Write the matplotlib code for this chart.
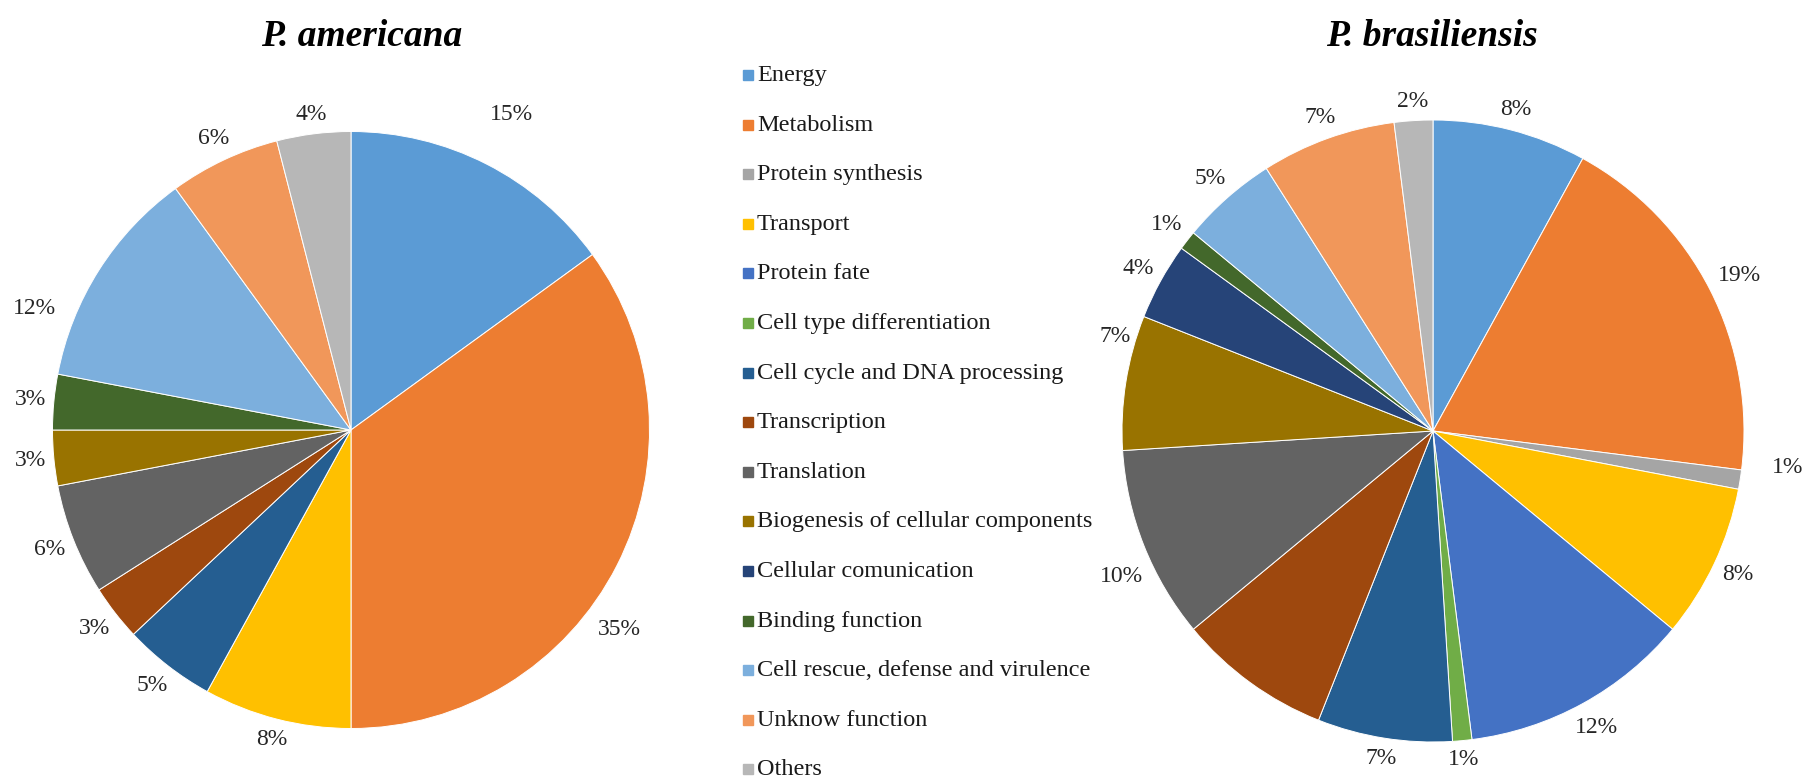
import numpy as np
import matplotlib.pyplot as plt
from matplotlib.patches import Rectangle

plt.rcParams['font.family'] = ['Liberation Serif', 'DejaVu Serif']

categories = ['Energy', 'Metabolism', 'Protein synthesis', 'Transport', 'Protein fate',
              'Cell type differentiation', 'Cell cycle and DNA processing', 'Transcription',
              'Translation', 'Biogenesis of cellular components', 'Cellular comunication',
              'Binding function', 'Cell rescue, defense and virulence', 'Unknow function',
              'Others']
colors = ['#5B9BD5', '#ED7D31', '#A5A5A5', '#FFC000', '#4472C4', '#70AD47', '#255E91',
          '#9E480E', '#636363', '#997300', '#264478', '#43682B', '#7CAFDD', '#F1975A',
          '#B7B7B7']

# percentages per functional category (0 = not present)
americana = [15, 35, 0, 8, 0, 0, 5, 3, 6, 3, 0, 3, 12, 6, 4]
brasiliensis = [8, 19, 1, 8, 12, 1, 7, 8, 10, 7, 4, 1, 5, 7, 2]
brasiliensis_shown = [True] * 15
brasiliensis_shown[7] = False  # transcription slice has no label

# label nudges (angle in degrees, extra distance in px), "best fit" style
americana_nudge = {0: (0, 28), 1: (-9.7, 4), 12: (11.4, 8)}
brasiliensis_nudge = {2: (3.2, 22), 8: (3.4, 0), 9: (-7.5, -5)}

W, H = 1809, 781
fig = plt.figure(figsize=(W / 100, H / 100), dpi=100)
ax = fig.add_axes([0, 0, 1, 1])


def draw_pie(values, shown, nudge, cx, cy, r, title, tx):
    idx = [i for i, v in enumerate(values) if v > 0]
    vals = [values[i] for i in idx]
    cols = [colors[i] for i in idx]
    wedges, _ = ax.pie(vals, colors=cols, startangle=90, counterclock=False,
                       radius=r, center=(cx, H - cy),
                       wedgeprops=dict(edgecolor='white', linewidth=0.7))
    for w, i in zip(wedges, idx):
        if not shown[i]:
            continue
        v = values[i]
        da, dd = nudge.get(i, (0, 0))
        ang = np.deg2rad((w.theta1 + w.theta2) / 2 + da)
        tw = 15 * len(f'{v}%')
        th = 20
        d = r + 8 + dd + 0.5 * (tw * abs(np.cos(ang)) + th * abs(np.sin(ang)))
        ax.text(cx + d * np.cos(ang), H - cy + d * np.sin(ang), f'{v}%',
                ha='center', va='center', fontsize=17, color='#262626')
    ax.text(tx, H - 36, title, ha='center', va='center', fontsize=27,
            fontweight='bold', fontstyle='italic')


draw_pie(americana, [True] * 15, americana_nudge, 351, 430, 298.5, 'P. americana', 362)
draw_pie(brasiliensis, brasiliensis_shown, brasiliensis_nudge, 1433, 431, 311,
         'P. brasiliensis', 1432)

# legend between the two pies
for i, (name, col) in enumerate(zip(categories, colors)):
    y = 73 + 49.6 * i
    ax.add_patch(Rectangle((743, H - y - 7), 10, 10, color=col))
    ax.text(757, H - y - 8, name, ha='left', va='baseline', fontsize=17.5, color='#1a1a1a')

ax.set_xlim(0, W)
ax.set_ylim(0, H)
ax.set_aspect('auto')
ax.axis('off')

fig.savefig('out.png', dpi=100)
